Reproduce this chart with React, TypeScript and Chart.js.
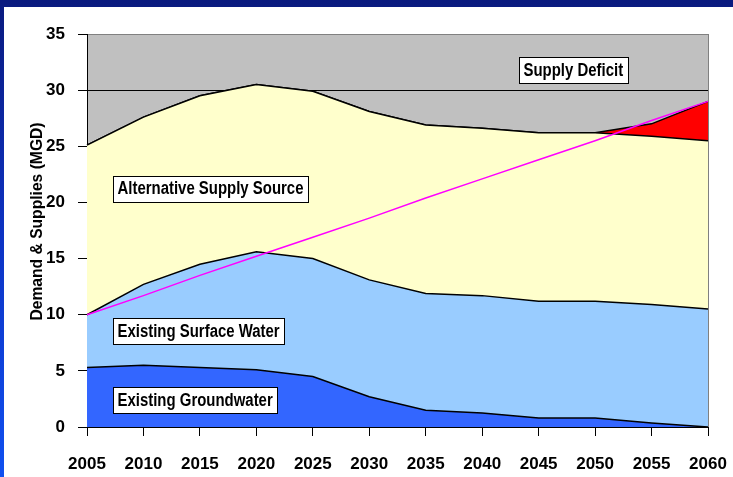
import React, { useEffect, useRef } from "react";
import { Chart, registerables } from "chart.js";

Chart.register(...registerables);

const years = ["2005", "2010", "2015", "2020", "2025", "2030", "2035", "2040", "2045", "2050", "2055", "2060"];
const groundwater = [5.3, 5.5, 5.3, 5.1, 4.5, 2.7, 1.5, 1.25, 0.8, 0.8, 0.35, 0];
const surfaceWater = [4.7, 7.2, 9.2, 10.5, 10.5, 10.4, 10.4, 10.45, 10.4, 10.4, 10.55, 10.5];
const alternative = [15.1, 14.9, 15.0, 14.9, 14.9, 15.0, 15.0, 14.9, 15.0, 15.0, 15.0, 15.0];
const deficit = [0, 0, 0, 0, 0, 0, 0, 0, 0, 0, 1.1, 3.5];
const demand = [10, 11.7, 13.5, 15.2, 16.9, 18.6, 20.4, 22.1, 23.8, 25.5, 27.3, 29];

const yTitle = "Demand & Supplies (MGD)";
const annotations = [
  { text: "Supply Deficit", year: 2043.3, value: 31.8 },
  { text: "Alternative Supply Source", year: 2007.3, value: 21.24 },
  { text: "Existing Surface Water", year: 2007.3, value: 8.55 },
  { text: "Existing Groundwater", year: 2007.3, value: 2.4 },
];

const LABEL_FONT = 'bold 18px "Liberation Sans", Arial, sans-serif';
const NARROW = 0.83;

const decorPlugin = {
  id: "decor",
  beforeDraw(chart: any) {
    const { ctx, chartArea } = chart;
    ctx.save();
    ctx.fillStyle = "#C0C0C0";
    ctx.fillRect(chartArea.left, chartArea.top, chartArea.right - chartArea.left, chartArea.bottom - chartArea.top);
    ctx.restore();
  },
  afterDraw(chart: any) {
    const { ctx, chartArea, scales } = chart;
    ctx.save();
    ctx.strokeStyle = "#808080";
    ctx.lineWidth = 1;
    ctx.beginPath();
    ctx.moveTo(chartArea.right + 0.5, chartArea.top);
    ctx.lineTo(chartArea.right + 0.5, chartArea.bottom);
    ctx.stroke();

    ctx.font = LABEL_FONT;
    ctx.textBaseline = "middle";
    ctx.textAlign = "left";
    for (const a of annotations) {
      const idx = (a.year - 2005) / 5;
      const x = Math.round(scales.x.getPixelForValue(idx)) + 0.5;
      const yc = scales.y.getPixelForValue(a.value);
      const tw = ctx.measureText(a.text).width * NARROW;
      const w = Math.round(tw + 9);
      const h = 26;
      const y = Math.round(yc - h / 2) + 0.5;
      ctx.fillStyle = "#FFFFFF";
      ctx.fillRect(x, y, w, h);
      ctx.strokeStyle = "#000000";
      ctx.lineWidth = 1;
      ctx.strokeRect(x, y, w, h);
      ctx.save();
      ctx.translate(x + 4, yc + 1);
      ctx.scale(NARROW, 1);
      ctx.fillStyle = "#000000";
      ctx.fillText(a.text, 0, 0);
      ctx.restore();
    }

    ctx.font = 'bold 17px "Liberation Sans", Arial, sans-serif';
    ctx.textAlign = "center";
    ctx.textBaseline = "middle";
    ctx.translate(33, (chartArea.top + chartArea.bottom) / 2 - 9);
    ctx.rotate(-Math.PI / 2);
    ctx.scale(0.92, 1);
    ctx.fillStyle = "#000000";
    ctx.fillText(yTitle, 0, 0);
    ctx.restore();
  },
};

export default function App() {
  const ref = useRef<HTMLCanvasElement | null>(null);

  useEffect(() => {
    if (!ref.current) return;
    const area = (label: string, data: number[], bg: string, fill: any) => ({
      label,
      data,
      backgroundColor: bg,
      borderColor: "#000000",
      borderWidth: 1.5,
      pointRadius: 0,
      tension: 0,
      fill,
      stack: "supply",
    });
    const tickFont = { family: '"Liberation Sans", Arial, sans-serif', size: 17, weight: "bold" as const };
    const chart = new Chart(ref.current, {
      type: "line",
      data: {
        labels: years,
        datasets: [
          area("Existing Groundwater", groundwater, "#3366FF", "origin"),
          area("Existing Surface Water", surfaceWater, "#99CCFF", "-1"),
          area("Alternative Supply Source", alternative, "#FFFFCC", "-1"),
          area("Supply Deficit", deficit, "#FF0000", "-1"),
          {
            label: "Demand",
            data: demand,
            borderColor: "#FF00FF",
            borderWidth: 1.5,
            pointRadius: 0,
            tension: 0,
            fill: false,
            stack: "demand",
            order: -1,
          } as any,
        ],
      },
      options: {
        animation: false,
        responsive: false,
        maintainAspectRatio: false,
        layout: { padding: { top: 27, right: 25, left: 0, bottom: 0 } },
        plugins: { legend: { display: false }, tooltip: { enabled: false } },
        scales: {
          x: {
            type: "category",
            offset: false,
            grid: { drawOnChartArea: false, tickLength: 9, color: "#000000", tickColor: "#000000" },
            border: { color: "#000000", width: 1 },
            ticks: {
              color: "#000000",
              font: tickFont,
              padding: 18,
              maxRotation: 0,
              autoSkip: false,
            },
            afterFit(scale: any) {
              scale.height = 50;
              scale.paddingLeft = 0;
              scale.paddingRight = 0;
            },
          },
          y: {
            stacked: true,
            min: 0,
            max: 35,
            ticks: {
              stepSize: 5,
              color: "#000000",
              font: tickFont,
              padding: 13,
            },
            grid: {
              tickLength: 9,
              color: (c: any) => (c.tick && c.tick.value === 35 ? "#808080" : "#000000"),
              tickColor: "#000000",
            },
            border: { color: "#000000", width: 1 },
            afterFit(scale: any) {
              scale.width = 83;
              scale.paddingTop = 0;
              scale.paddingBottom = 0;
            },
          },
        },
      },
      plugins: [decorPlugin],
    });
    return () => chart.destroy();
  }, []);

  return (
    <div
      style={{
        position: "fixed",
        left: 0,
        top: 0,
        width: 733,
        height: 477,
        background: "linear-gradient(to bottom, #0a1a7e 0%, #0d33c4 50%, #1050f0 100%)",
        overflow: "hidden",
      }}
    >
      <div style={{ position: "absolute", left: 4, top: 7, width: 729, height: 470, background: "#FFFFFF" }}>
        <canvas ref={ref} width={729} height={470} style={{ display: "block", width: 729, height: 470 }} />
      </div>
    </div>
  );
}
